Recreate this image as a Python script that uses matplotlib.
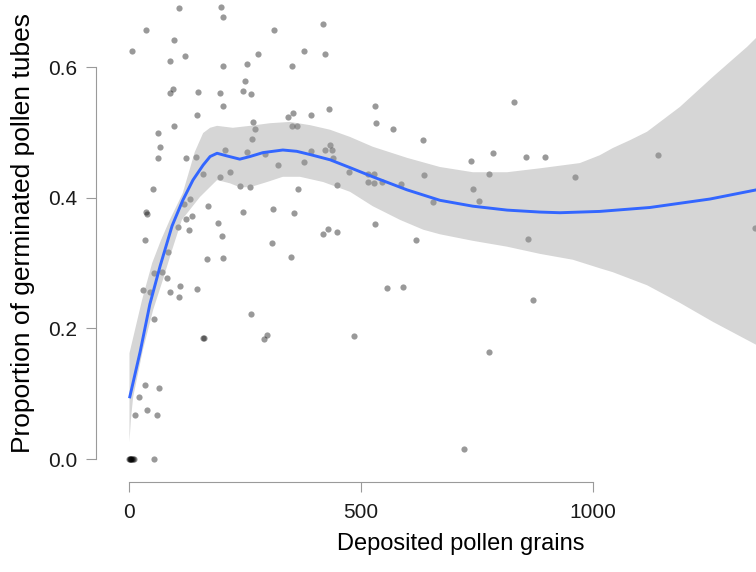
import matplotlib
matplotlib.use("Agg")
import matplotlib.pyplot as plt
from matplotlib.ticker import FormatStrFormatter

# Observations: deposited pollen grains vs. proportion of germinated tubes
pollen = [107, 197, 202, 36, 312, 418, 96, 6, 88, 120, 277, 377, 421, 202, 254,
          351, 249, 93, 87, 148, 195, 245, 263, 202, 146, 430, 352, 342, 392, 96,
          267, 270, 351, 361, 62, 264, 65, 432, 422, 438, 206, 254, 392, 61, 123,
          143, 292, 439, 321, 377, 473, 158, 218, 196, 238, 261, 448, 364, 51, 118,
          131, 170, 35, 38, 246, 310, 354, 123, 135, 190, 105, 129, 200, 417, 428,
          447, 33, 308, 83, 167, 202, 349, 54, 71, 81, 29, 44, 87, 110, 107,
          146, 54, 262, 159, 160, 296, 290, 484, 33, 63, 20, 13, 38, 59, 53,
          0, 1, 2, 3, 4, 6, 8, 10,
          530, 531, 569, 633, 829, 737, 784, 856, 897, 961, 515, 528, 514, 528, 545,
          585, 635, 656, 742, 776, 755, 530, 619, 861, 556, 590, 870, 776, 722, 1140,
          1350]
prop = [0.690, 0.692, 0.677, 0.657, 0.657, 0.666, 0.642, 0.624, 0.610, 0.617, 0.620, 0.625, 0.620, 0.602, 0.605,
        0.601, 0.578, 0.567, 0.561, 0.562, 0.560, 0.564, 0.559, 0.540, 0.526, 0.536, 0.529, 0.524, 0.527, 0.509,
        0.516, 0.505, 0.510, 0.510, 0.499, 0.490, 0.477, 0.481, 0.473, 0.473, 0.473, 0.470, 0.471, 0.460, 0.460,
        0.462, 0.467, 0.460, 0.450, 0.455, 0.439, 0.437, 0.440, 0.432, 0.418, 0.416, 0.420, 0.413, 0.414, 0.391,
        0.398, 0.387, 0.378, 0.375, 0.378, 0.383, 0.377, 0.367, 0.372, 0.362, 0.355, 0.351, 0.341, 0.345, 0.352,
        0.348, 0.335, 0.331, 0.317, 0.306, 0.307, 0.309, 0.285, 0.287, 0.277, 0.258, 0.255, 0.255, 0.265, 0.248,
        0.261, 0.214, 0.222, 0.186, 0.186, 0.190, 0.184, 0.188, 0.114, 0.108, 0.095, 0.067, 0.075, 0.067, 0.000,
        0.0, 0.0, 0.0, 0.0, 0.0, 0.0, 0.0, 0.0,
        0.540, 0.515, 0.505, 0.488, 0.546, 0.456, 0.468, 0.463, 0.462, 0.431, 0.437, 0.437, 0.424, 0.422, 0.424,
        0.421, 0.434, 0.394, 0.413, 0.437, 0.395, 0.359, 0.336, 0.337, 0.262, 0.264, 0.243, 0.164, 0.015, 0.465,
        0.353]

# Smoothed fit with its confidence band
fit_x = [0, 23, 44, 66, 92, 115, 137, 159, 174, 189, 210, 238, 260, 288, 331,
         361, 390, 433, 476, 525, 599, 670, 741, 815, 886, 929, 1015, 1123, 1253, 1360]
fit_y = [0.093, 0.164, 0.237, 0.295, 0.357, 0.396, 0.427, 0.450, 0.463, 0.468, 0.464, 0.459, 0.463, 0.469, 0.473,
         0.471, 0.466, 0.458, 0.446, 0.432, 0.412, 0.396, 0.387, 0.381, 0.378, 0.377, 0.379, 0.385, 0.398, 0.413]

band_x_hi = [0, 27, 49, 68, 87, 115, 141, 159, 174, 189, 223, 260, 303, 346, 390, 433, 476, 525, 599,
             670, 741, 815, 886, 929, 972, 1015, 1043, 1080, 1117, 1188, 1259, 1333, 1360]
band_hi = [0.162, 0.243, 0.300, 0.335, 0.366, 0.407, 0.470, 0.499, 0.507, 0.510, 0.507, 0.510, 0.514, 0.516,
           0.511, 0.504, 0.493, 0.478, 0.461, 0.447, 0.439, 0.439, 0.445, 0.449, 0.453, 0.465, 0.476, 0.488,
           0.501, 0.539, 0.585, 0.631, 0.650]
band_x_lo = [0, 3, 8, 29, 51, 72, 92, 113, 152, 189, 217, 238, 260, 297, 331, 368, 418, 476, 525, 584,
             634, 670, 741, 815, 886, 957, 1015, 1043, 1117, 1188, 1259, 1360]
band_lo = [0.026, 0.060, 0.095, 0.167, 0.228, 0.274, 0.320, 0.366, 0.401, 0.427, 0.422, 0.416, 0.416, 0.424,
           0.432, 0.432, 0.424, 0.409, 0.387, 0.366, 0.351, 0.344, 0.334, 0.325, 0.314, 0.305, 0.292, 0.286,
           0.266, 0.239, 0.210, 0.172]

x_ticks = [0, 500, 1000]
y_ticks = [0.0, 0.2, 0.4, 0.6]

plt.rcParams['font.family'] = ['Liberation Sans', 'DejaVu Sans']

fig = plt.figure(figsize=(7.56, 5.72), dpi=100)
ax = fig.add_axes([0.1275, 0.158, 0.9628, 0.8694])

ax.scatter(pollen, prop, s=20, color='black', alpha=0.4, linewidths=0, zorder=2)

# Band polygon: upper edge left-to-right, lower edge right-to-left
poly_x = band_x_hi + band_x_lo[::-1]
poly_y = band_hi + band_lo[::-1]
ax.fill(poly_x, poly_y, color='#999999', alpha=0.4, linewidth=0, zorder=3)
ax.plot(fit_x, fit_y, color='#3366FF', lw=2.1, zorder=4,
        solid_joinstyle='round', solid_capstyle='butt')

ax.set_xlim(-71.4, 1499.4)
ax.set_ylim(-0.0346, 0.7266)

for side in ['top', 'right']:
    ax.spines[side].set_visible(False)
for side in ['left', 'bottom']:
    ax.spines[side].set_color('#9a9a9a')
    ax.spines[side].set_linewidth(0.8)
ax.spines['left'].set_bounds(0, 0.6)
ax.spines['bottom'].set_bounds(0, 1000)

ax.set_xticks(x_ticks)
ax.set_yticks(y_ticks)
ax.yaxis.set_major_formatter(FormatStrFormatter('%.1f'))
ax.tick_params(axis='both', colors='#9a9a9a', labelcolor='#1a1a1a', length=7.5, width=0.8, labelsize=15)
ax.tick_params(axis='x', pad=8)
ax.tick_params(axis='y', pad=6.5)

ax.set_xlabel('Deposited pollen grains', fontsize=17, labelpad=7.5, color='black')
ax.set_ylabel('Proportion of germinated pollen tubes', fontsize=19, labelpad=9.5, color='black')

fig.savefig('out.png', dpi=100)
